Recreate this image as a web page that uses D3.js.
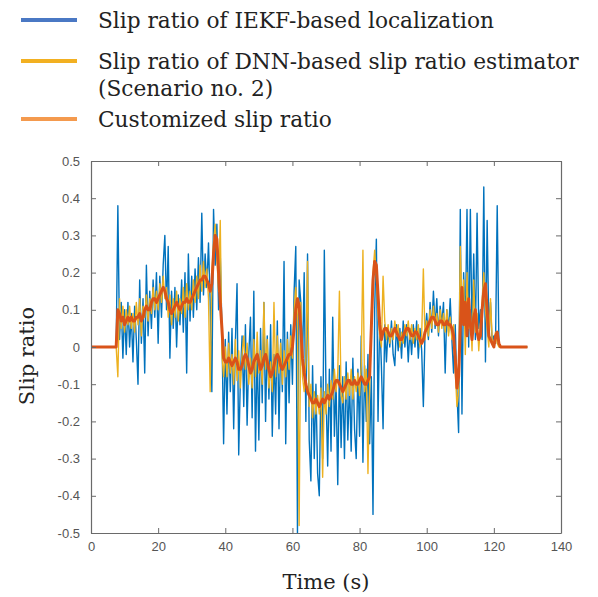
<!DOCTYPE html>
<html><head><meta charset="utf-8">
<script src="https://cdn.jsdelivr.net/npm/d3@7"></script>
<style>body{margin:0;background:#fff}svg{display:block}</style>
</head><body>
<svg id="c" width="598" height="597"></svg>
<script>
// ---- data ----
const seriesNames = [
  ["Slip ratio of IEKF-based localization"],
  ["Slip ratio of DNN-based slip ratio estimator", "(Scenario no. 2)"],
  ["Customized slip ratio"]
];
const xTicks = [0, 20, 40, 60, 80, 100, 120, 140];
const yTicks = [-0.5, -0.4, -0.3, -0.2, -0.1, 0, 0.1, 0.2, 0.3, 0.4, 0.5];
const yTickLabels = ["-0.5","-0.4","-0.3","-0.2","-0.1","0","0.1","0.2","0.3","0.4","0.5"];
const sampleStep = 0.5; // seconds between samples, first sample at t = 0

const iekf = [
  0,0,0,0,0,0,0,0,0,0,
  0,0,0,0,0,0,0.38,0.02,0.12,-0.03,
  0.10,-0.02,0.12,0.00,0.09,-0.04,0.11,0.02,-0.10,0.18,
  0.01,0.13,-0.07,0.22,0.03,0.15,0.05,0.18,0.08,0.20,
  0.01,0.19,0.08,0.22,0.30,0.10,0.27,-0.03,0.15,0.05,
  0.16,0.00,0.14,0.06,0.18,0.04,0.20,-0.07,0.25,0.07,
  0.19,0.08,0.21,0.10,0.24,0.12,0.36,0.14,0.25,0.16,
  0.28,0.12,-0.12,0.37,0.22,0.33,0.10,0.25,0.05,-0.26,
  0.02,-0.18,0.04,-0.12,0.05,-0.22,0.01,0.17,-0.29,-0.08,
  0.03,-0.16,0.06,-0.21,-0.02,0.08,-0.19,0.15,-0.28,0.00,
  -0.25,0.05,-0.15,0.12,-0.20,0.03,-0.14,0.06,-0.24,-0.02,
  -0.18,0.07,-0.22,0.02,-0.12,0.23,-0.26,0.04,-0.15,0.06,
  -0.10,0.15,0.27,-0.50,0.18,0.12,-0.05,0.20,-0.20,0.25,
  -0.25,-0.36,-0.05,-0.30,-0.10,-0.34,-0.40,-0.08,-0.30,0.26,
  -0.12,-0.32,-0.06,-0.28,0.08,-0.24,-0.10,-0.37,-0.05,-0.27,
  -0.08,-0.30,-0.04,-0.25,-0.09,-0.28,-0.03,-0.22,-0.30,-0.06,
  -0.24,0.03,-0.31,-0.05,-0.20,-0.02,-0.26,-0.08,-0.45,0.10,
  0.29,-0.20,0.08,-0.05,-0.22,0.06,-0.04,0.05,0.00,0.07,
  -0.02,-0.05,0.06,-0.01,0.05,-0.03,0.07,0.00,0.06,-0.04,
  0.05,-0.02,0.06,0.00,0.07,-0.03,0.05,-0.01,-0.16,0.04,
  0.09,0.02,0.12,0.04,0.15,0.05,0.13,0.03,0.11,0.06,
  0.12,-0.07,0.10,0.04,0.13,0.02,-0.07,0.06,-0.12,-0.23,
  0.37,-0.18,0.20,0.05,0.37,0.00,0.37,0.03,0.25,0.02,
  0.36,0.05,0.10,0.02,0.43,-0.04,0.34,0.05,0.12,0.01,
  0.03,0.01,0.38,0.01,0,0,0,0,0,0,
  0,0,0,0,0,0,0,0,0,0,
  0
];

const dnn = [
  0,0,0,0,0,0,0,0,0,0,
  0,0,0,0,0,0,-0.08,0.13,0.05,0.11,
  0.04,0.10,0.06,0.11,0.05,0.09,0.04,0.12,0.06,0.13,
  0.03,0.11,0.08,0.14,0.07,0.13,0.09,0.16,0.10,0.15,
  0.10,0.17,0.12,0.19,0.13,0.16,0.08,0.14,0.06,0.13,
  0.08,0.15,0.07,0.13,0.09,0.16,0.08,0.17,0.10,0.15,
  0.10,0.18,0.12,0.19,0.13,0.22,0.15,0.23,0.16,0.21,
  0.13,-0.12,0.20,0.28,0.33,0.24,0.15,0.34,-0.02,-0.08,
  0.00,-0.08,0.01,-0.07,-0.02,-0.10,0.02,-0.09,-0.01,-0.11,
  -0.02,0.03,-0.06,0.01,-0.10,-0.03,-0.11,0.02,-0.08,0.04,
  -0.07,-0.01,-0.10,0.12,-0.06,0.02,-0.11,-0.04,-0.12,0.12,
  -0.08,0.03,-0.07,0.01,-0.10,-0.01,-0.08,0.02,-0.06,0.03,
  -0.03,0.10,0.16,0.08,-0.48,0.12,-0.08,-0.12,-0.04,0.23,
  -0.16,-0.10,-0.19,-0.12,-0.18,-0.13,-0.18,-0.11,-0.35,-0.12,
  -0.18,-0.10,-0.16,-0.09,-0.14,-0.06,-0.12,-0.07,0.15,-0.13,
  -0.15,-0.08,-0.14,-0.07,-0.13,-0.06,-0.14,-0.08,-0.12,-0.07,
  -0.13,-0.05,0.26,-0.12,-0.06,-0.34,-0.10,0.08,0.20,0.26,
  0.19,0.09,0.03,0.00,0.19,0.07,0.02,0.06,0.01,0.05,
  0.02,0.07,0.03,0.06,0.00,0.04,0.01,0.06,0.03,0.07,
  0.02,0.06,0.01,0.05,0.02,0.06,0.00,0.03,0.21,0.02,
  0.07,0.03,0.10,0.05,0.11,0.06,0.09,0.04,0.10,0.05,
  0.09,0.04,0.10,0.03,0.08,0.02,0.06,-0.06,-0.16,-0.12,
  0.27,0.10,0.18,-0.02,0.20,0.05,0.10,-0.01,0.18,0.04,
  0.09,-0.01,0.06,0.12,0.20,0.10,0.05,0.00,0.13,0.02,
  0.00,0.04,0.01,0.00,0,0,0,0,0,0,
  0,0,0,0,0,0,0,0,0,0,
  0
];

const custom = [
  0,0,0,0,0,0,0,0,0,0,
  0,0,0,0,0,0,0.10,0.09,0.07,0.08,
  0.06,0.07,0.08,0.07,0.08,0.07,0.07,0.08,0.08,0.09,
  0.07,0.08,0.10,0.11,0.10,0.10,0.12,0.13,0.13,0.12,
  0.13,0.14,0.15,0.16,0.15,0.13,0.12,0.10,0.09,0.10,
  0.11,0.12,0.11,0.10,0.11,0.12,0.12,0.13,0.12,0.12,
  0.13,0.14,0.15,0.16,0.17,0.18,0.18,0.19,0.19,0.18,
  0.17,0.15,0.17,0.25,0.30,0.29,0.20,0.12,0.05,-0.03,
  -0.04,-0.04,-0.03,-0.04,-0.05,-0.04,-0.03,-0.04,-0.06,-0.06,
  -0.05,-0.03,-0.02,-0.03,-0.05,-0.07,-0.06,-0.04,-0.03,-0.02,
  -0.04,-0.06,-0.05,-0.03,-0.02,-0.04,-0.06,-0.08,-0.07,-0.05,
  -0.03,-0.02,-0.03,-0.05,-0.06,-0.05,-0.04,-0.03,-0.02,-0.02,
  0.00,0.05,0.10,0.13,0.11,0.05,-0.03,-0.07,-0.10,-0.12,
  -0.13,-0.14,-0.15,-0.15,-0.14,-0.15,-0.16,-0.15,-0.14,-0.15,
  -0.14,-0.13,-0.14,-0.13,-0.12,-0.10,-0.09,-0.09,-0.10,-0.11,
  -0.12,-0.11,-0.10,-0.09,-0.09,-0.10,-0.10,-0.09,-0.10,-0.10,
  -0.09,-0.08,-0.09,-0.10,-0.10,-0.09,-0.08,0.05,0.18,0.23,
  0.22,0.14,0.06,0.02,0.04,0.05,0.05,0.04,0.03,0.03,
  0.04,0.05,0.04,0.03,0.02,0.02,0.03,0.04,0.05,0.05,
  0.04,0.03,0.03,0.04,0.04,0.03,0.02,0.01,0.02,0.04,
  0.05,0.06,0.07,0.08,0.08,0.07,0.06,0.06,0.07,0.07,
  0.06,0.06,0.07,0.06,0.06,0.05,0.03,-0.03,-0.11,-0.08,
  0.05,0.16,0.06,0.12,0.03,0.13,0.06,0.02,0.08,0.10,
  0.04,0.02,0.03,0.10,0.15,0.17,0.10,0.03,0.02,0.01,
  0.00,0.03,0.04,0.01,0,0,0,0,0,0,
  0,0,0,0,0,0,0,0,0,0,
  0
];

const seriesColors = ["#0072BD", "#EDB120", "#D95319"];
const legendColors = ["#4a78c4", "#f2b021", "#f49a4e"];

// ---- layout ----
const svg = d3.select("#c");
const L = 91, R = 561, T = 161, B = 533;
const x = d3.scaleLinear().domain([0, 140]).range([L, R]);
const y = d3.scaleLinear().domain([-0.5, 0.5]).range([B, T]);
const axisColor = "#6a6a6a", labelColor = "#555";

const line = d3.line().x((d, i) => x(i * sampleStep)).y(d => y(d));
const plot = svg.append("g");
[iekf, dnn, custom].forEach((s, k) => {
  plot.append("path").datum(s).attr("d", line)
    .attr("fill", "none").attr("stroke", seriesColors[k])
    .attr("stroke-width", k === 2 ? 3 : 1.4)
    .attr("stroke-linejoin", "round");
});

// box and ticks (MATLAB style, inward)
const tl = 5;
const axB = svg.append("g").attr("transform", `translate(0,${B})`)
  .call(d3.axisBottom(x).tickValues(xTicks).tickSizeInner(-tl).tickSizeOuter(0).tickPadding(9).tickFormat(d3.format("d")));
const axT = svg.append("g").attr("transform", `translate(0,${T})`)
  .call(d3.axisTop(x).tickValues(xTicks).tickSizeInner(-tl).tickSizeOuter(0).tickFormat(""));
const axL = svg.append("g").attr("transform", `translate(${L},0)`)
  .call(d3.axisLeft(y).tickValues(yTicks).tickSizeInner(-tl).tickSizeOuter(0).tickPadding(11)
    .tickFormat((d, i) => yTickLabels[i]));
const axR = svg.append("g").attr("transform", `translate(${R},0)`)
  .call(d3.axisRight(y).tickValues(yTicks).tickSizeInner(-tl).tickSizeOuter(0).tickFormat(""));
[axB, axT, axL, axR].forEach(g => {
  g.select(".domain").attr("stroke", axisColor).attr("stroke-width", 1.2);
  g.selectAll(".tick line").attr("stroke", axisColor).attr("stroke-width", 1);
  g.selectAll("text").attr("fill", labelColor)
    .style("font-family", "'Liberation Sans', Arial, sans-serif").style("font-size", "13px");
});

// axis titles
const serif = "'DejaVu Serif', serif";
svg.append("text").attr("x", 326).attr("y", 589).attr("text-anchor", "middle")
  .style("font-family", serif).style("font-size", "21px").attr("fill", "#222").text("Time (s)");
svg.append("text").attr("transform", "translate(34,356) rotate(-90)").attr("text-anchor", "middle")
  .style("font-family", serif).style("font-size", "21px").attr("fill", "#222").text("Slip ratio");

// legend
const legendLineY = [20, 61, 119];
const legendTextY = [28, 69, 127];
const lg = svg.append("g");
seriesNames.forEach((lines, k) => {
  lg.append("line").attr("x1", 21).attr("x2", 77)
    .attr("y1", legendLineY[k]).attr("y2", legendLineY[k])
    .attr("stroke", legendColors[k]).attr("stroke-width", 4);
  lines.forEach((t, j) => {
    lg.append("text").attr("x", 98).attr("y", legendTextY[k] + j * 27)
      .style("font-family", serif).style("font-size", "21.7px").attr("fill", "#222").text(t);
  });
});
</script>
</body></html>
